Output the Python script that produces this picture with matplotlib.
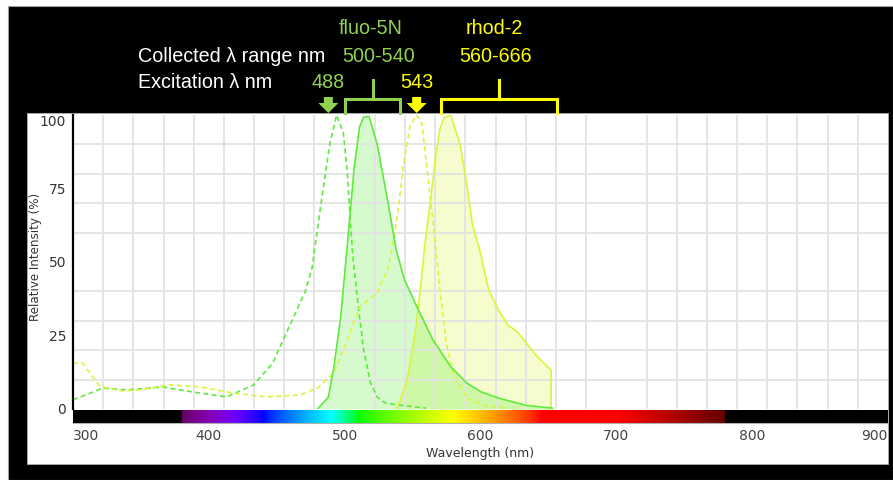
import numpy as np
import matplotlib.pyplot as plt
from matplotlib.patches import Rectangle, Polygon

# Espectros (longitud de onda en nm, intensidad relativa en %)
fluo5n_ex_nm = [300, 322, 340, 366, 388, 413, 433, 447, 457, 471, 476, 482, 489, 494,
                499, 502, 504, 506, 510, 514, 519, 524, 530, 541, 560]
fluo5n_ex = [3.1, 7.1, 6.5, 7.5, 5.8, 4.1, 8.2, 15.6, 25.8, 40, 48, 68, 90, 100,
             94, 80, 65, 52, 35, 20, 9, 4, 2, 1.3, 0.3]

fluo5n_em_nm = [480, 488, 492, 497, 502, 507, 511, 514, 518, 524, 532, 538, 544, 555,
                565, 578, 590, 600, 614, 634, 653]
fluo5n_em = [0, 4, 14, 31, 56, 82, 96, 99.3, 99.5, 90, 70, 54, 44, 33,
             23.5, 14.4, 8.8, 5.9, 3.6, 1.2, 0.3]

rhod2_ex_nm = [300, 307, 320, 337, 349, 371, 394, 418, 443, 467, 480, 492, 502, 511,
               524, 532, 537, 540, 543, 548, 553, 557, 561, 565, 568, 571, 575, 580,
               590, 605, 620]
rhod2_ex = [15.6, 15.6, 7.6, 6.1, 6.5, 8.2, 7.5, 5.4, 4.1, 4.8, 7.1, 12.2, 23.5, 34.7,
            39.5, 48, 60, 70, 82, 96, 100, 97, 80, 64, 50, 37, 22, 12,
            3.5, 1, 0.3]

rhod2_em_nm = [538, 541, 546, 552, 556, 559, 563, 567, 570, 573, 578, 585, 590, 594,
               600, 606, 612, 620, 627, 633, 642, 652, 652]
rhod2_em = [0, 3, 10, 26, 42, 56, 70, 86, 95, 99, 100, 90, 76, 63,
            53, 40.5, 34.7, 28.6, 26.3, 22.8, 17.7, 13.2, 0]

# Anotaciones de la cabecera
flecha_nm = [488, 553]            # posicion de las flechas de excitacion
rango_nm = [(500, 541), (571, 656)]  # corchetes de rango recogido
x_ticks = [300, 400, 500, 600, 700, 800, 900]
y_ticks = [0, 25, 50, 75, 100]

verde_txt = '#92D050'
amarillo_txt = '#FFFF00'
verde = '#5DEB3C'
amarillo = '#DCF53A'

W, H = 893, 480
fig = plt.figure(figsize=(W / 100, H / 100), dpi=100, facecolor='white')


def fx(px):
    return px / W


def fy(py):
    return 1 - py / H


# fondo negro y panel blanco
fig.patches.append(Rectangle((fx(8), 0), fx(W - 8), 1 - 6 / H, transform=fig.transFigure,
                             facecolor='black', edgecolor='#a0a0a0', linewidth=0.8, zorder=-2))
fig.patches.append(Rectangle((fx(27), fy(464)), fx(888 - 27), (464 - 113) / H,
                             transform=fig.transFigure, facecolor='white',
                             edgecolor='#b0b0b0', linewidth=0.6, zorder=-1))

ax = fig.add_axes([fx(73), fy(409), fx(815), 294 / H])
ax.set_xlim(300, 900)
ax.set_ylim(0, 100)
ax.set_facecolor('white')

# rejilla independiente de las marcas
ax.set_xticks(np.linspace(300, 900, 28), minor=True)
ax.set_yticks(np.arange(0, 101, 10), minor=True)
ax.grid(which='minor', color='#e3e3e3', linewidth=1.3)
ax.grid(which='major', visible=False)
ax.set_xticks(x_ticks)
ax.set_yticks(y_ticks)
ax.tick_params(which='both', length=0)
ax.tick_params(axis='x', labelbottom=False)
ax.tick_params(axis='y', labelsize=10, labelcolor='#333333', pad=5)
ax.get_yticklabels()[-1].set_va('top')
for s in ['top', 'right', 'bottom']:
    ax.spines[s].set_visible(False)
ax.spines['left'].set_color('black')
ax.spines['left'].set_linewidth(1.6)
ax.set_ylabel('Relative Intensity (%)', fontsize=8.6, color='#333333')
ax.yaxis.set_label_coords(-0.0375, 0.517)

# curvas
ax.fill_between(rhod2_em_nm, rhod2_em, color=amarillo, alpha=0.25, linewidth=0)
ax.fill_between(fluo5n_em_nm, fluo5n_em, color=verde, alpha=0.25, linewidth=0)
ax.plot(fluo5n_ex_nm, fluo5n_ex, color=verde, linewidth=1.2, dashes=(3, 2))
ax.plot(rhod2_ex_nm, rhod2_ex, color=amarillo, linewidth=1.2, dashes=(3, 2))
ax.plot(rhod2_em_nm, rhod2_em, color=amarillo, linewidth=1.2)
ax.plot(fluo5n_em_nm, fluo5n_em, color=verde, linewidth=1.2)

# barra con el espectro visible
def wl_rgb(wl):
    if 380 <= wl < 440:
        r, g, b = -(wl - 440) / 60, 0, 1
    elif 440 <= wl < 490:
        r, g, b = 0, (wl - 440) / 50, 1
    elif 490 <= wl < 510:
        r, g, b = 0, 1, -(wl - 510) / 20
    elif 510 <= wl < 580:
        r, g, b = (wl - 510) / 70, 1, 0
    elif 580 <= wl < 645:
        r, g, b = 1, -(wl - 645) / 65, 0
    elif 645 <= wl <= 780:
        r, g, b = 1, 0, 0
    else:
        return (0, 0, 0)
    if wl < 420:
        f = 0.3 + 0.7 * (wl - 380) / 40
    elif wl > 700:
        f = 0.3 + 0.7 * (780 - wl) / 80
    else:
        f = 1
    return tuple((c * f) ** 0.8 for c in (r, g, b))


wls = np.linspace(300, 900, 1200)
barra = np.array([[wl_rgb(w) for w in wls]])
ax2 = fig.add_axes([fx(73), fy(423), fx(815), 13 / H])
ax2.imshow(barra, extent=(300, 900, 0, 1), aspect='auto')
ax2.set_xlim(300, 900)
ax2.set_yticks([])
ax2.set_xticks(x_ticks)
ax2.tick_params(length=0, labelsize=10, labelcolor='#444444', pad=4)
for s in ['top', 'right', 'left']:
    ax2.spines[s].set_visible(False)
ax2.spines['bottom'].set_color('#b0b0b0')
ax2.set_xlabel('Wavelength (nm)', fontsize=9, color='#333333', labelpad=3)
etq = ax2.get_xticklabels()
etq[0].set_ha('left')
etq[-1].set_ha('right')

# cabecera
fuente = ['Liberation Sans', 'DejaVu Sans']
fs = 14.2
fig.text(fx(371), fy(28), 'fluo-5N', color=verde_txt, fontsize=fs, ha='center', va='center', family=fuente)
fig.text(fx(494), fy(28), 'rhod-2', color=amarillo_txt, fontsize=fs, ha='center', va='center', family=fuente)
fig.text(fx(138), fy(57), 'Collected λ range nm', color='white', fontsize=fs, ha='left', va='center', family=fuente)
fig.text(fx(379), fy(57), '500-540', color=verde_txt, fontsize=fs, ha='center', va='center', family=fuente)
fig.text(fx(496), fy(57), '560-666', color=amarillo_txt, fontsize=fs, ha='center', va='center', family=fuente)
fig.text(fx(138), fy(82), 'Excitation λ nm', color='white', fontsize=fs, ha='left', va='center', family=fuente)
fig.text(fx(328), fy(82), '488', color=verde_txt, fontsize=fs, ha='center', va='center', family=fuente)
fig.text(fx(417), fy(82), '543', color=amarillo_txt, fontsize=fs, ha='center', va='center', family=fuente)

# flechas y corchetes (x en datos, y en fraccion del eje)
tr = ax.get_xaxis_transform()
def py_ax(py):
    return (409 - py) / 294

for x, c in zip(flecha_nm, [verde_txt, amarillo_txt]):
    pts = [(x - 3.3, py_ax(97)), (x + 3.3, py_ax(97)), (x + 3.3, py_ax(103)),
           (x + 7.4, py_ax(103)), (x, py_ax(113)), (x - 7.4, py_ax(103)),
           (x - 3.3, py_ax(103))]
    ax.add_patch(Polygon(pts, closed=True, transform=tr, facecolor=c,
                         edgecolor='none', clip_on=False))

for (x0, x1), c in zip(rango_nm, [verde_txt, amarillo_txt]):
    ax.plot([x0, x0, x1, x1], [py_ax(113), py_ax(99), py_ax(99), py_ax(113)],
            color=c, linewidth=2.2, transform=tr, clip_on=False, solid_joinstyle='miter')
    xm = (x0 + x1) / 2
    ax.plot([xm, xm], [py_ax(99), py_ax(80)], color=c, linewidth=2.2,
            transform=tr, clip_on=False)

fig.savefig('out.png', dpi=100, facecolor=fig.get_facecolor())
